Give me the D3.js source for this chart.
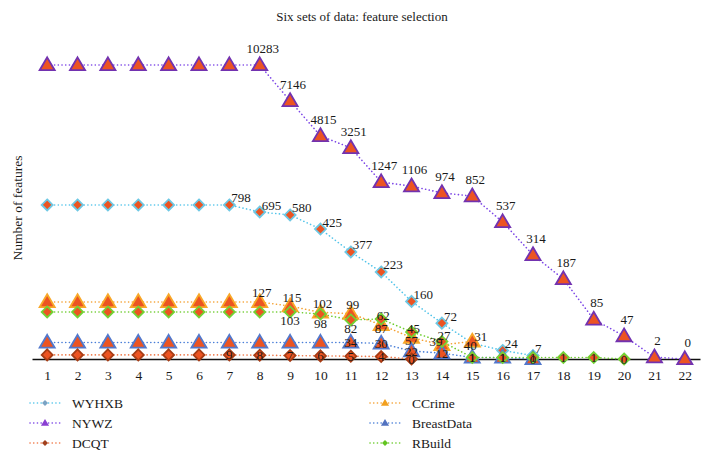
<!DOCTYPE html>
<html><head><meta charset="utf-8">
<script src="https://cdn.jsdelivr.net/npm/d3@7"></script>
<style>body{margin:0;background:#fff}</style>
</head><body>
<svg id="c" width="711" height="461"></svg>
<script>
// ---- data ----
const xLabels = d3.range(1, 23);
const wyhxb = [798,798,798,798,798,798,798,695,580,425,377,223,160,72,31,24,7];
const nywz = [10283,10283,10283,10283,10283,10283,10283,10283,7146,4815,3251,1247,1106,974,852,537,314,187,85,47,2,0];
const dcqt = [9,9,9,9,9,9,9,8,7,6,5,4,0];
const ccrime = [127,127,127,127,127,127,127,127,115,102,99,62,45,27,40];
const breastData = [34,34,34,34,34,34,34,34,34,34,34,30,22,12,1,1,0];
const rbuild = [103,103,103,103,103,103,103,103,103,98,82,87,57,39,1,1,1,1,1,0];
// first point that carries a data label, per series
const labelFrom = {WYHXB:6, NYWZ:7, DCQT:6, CCrime:7, BreastData:10, RBuild:8};

// The chart's vertical axis is not linear (no ticks are shown); it is
// reproduced with a piecewise-linear scale: value -> display level (0..100).
const levelDomain = [0,1,9,12,22,24,27,30,34,40,47,57,62,72,82,87,98,103,115,127,160,187,223,314,377,425,537,580,695,798,852,974,1106,1247,3251,4815,7146,10283];
const levelRange  = [0,0.5,1.4,2,2.7,2.9,4.8,5.3,5.6,6,7.8,9.2,11.6,12.2,13.3,13.6,15.3,16,18,19.4,19.6,27.2,29.6,35.4,36.4,44.2,46.6,49,50,52.4,55.4,56.5,58.8,60.2,71.8,75.9,87.8,100];

// ---- layout ----
const FONT = '"Liberation Serif", serif';
const baseY = 359, topY = 65;
const svg = d3.select('#c');

const x = d3.scalePoint().domain(xLabels).range([32, 700]).padding(0.5);
const level = d3.scaleLinear().domain(levelDomain).range(levelRange);
const yPx = d3.scaleLinear().domain([0, 100]).range([baseY, topY]);
const y = v => yPx(level(v));

const FILL = '#ec5422';
const series = [
  {name:'NYWZ', values:nywz, line:'#7b45e6', stroke:'#7232b0', legend:'#8a3fd2', shape:'tri', lab:'above'},
  {name:'WYHXB', values:wyhxb, line:'#52c4ea', stroke:'#6ec8e4', legend:'#7aa3c4', shape:'dia', lab:'right'},
  {name:'CCrime', values:ccrime, line:'#f4a030', stroke:'#f8a828', legend:'#f2a01e', shape:'tri', lab:'over'},
  {name:'BreastData', values:breastData, line:'#4a7fd8', stroke:'#5278cc', legend:'#5272c0', shape:'tri', lab:'center'},
  {name:'DCQT', values:dcqt, line:'#f07848', stroke:'#a63c14', legend:'#a2401c', shape:'dia', lab:'center'},
  {name:'RBuild', values:rbuild, line:'#6ccc2c', stroke:'#72d234', legend:'#62c420', shape:'dia', lab:'below'}
];

function shapePath(shape, s) {
  if (shape === 'tri') {
    const h = s * 0.95, w = s * 0.58;
    return `M0,${-h*0.62}L${w},${h*0.42}L${-w},${h*0.42}Z`;
  }
  return `M0,${-s*0.5}L${s*0.5},0L0,${s*0.5}L${-s*0.5},0Z`;
}

function txt(sel, size) {
  return sel.style('font-family', FONT).style('font-size', size + 'px').style('fill', '#1a1a1a');
}

// title
txt(svg.append('text'), 13).attr('x', 362).attr('y', 21).attr('text-anchor', 'middle')
  .text('Six sets of data: feature selection');

// y title
txt(svg.append('text'), 13.5).attr('transform', 'translate(22,208) rotate(-90)')
  .attr('text-anchor', 'middle').text('Number of features');

// x axis
const xAxis = svg.append('g').attr('transform', `translate(0,${baseY})`)
  .call(d3.axisBottom(x).tickSize(0).tickPadding(11));
xAxis.select('.domain').attr('stroke', '#111').attr('stroke-width', 1.4);
txt(xAxis.selectAll('text'), 13.5);

// lines
const line = d3.line().x((d, i) => x(xLabels[i])).y(d => y(d));
series.forEach(s => {
  svg.append('path').datum(s.values).attr('d', line)
    .attr('fill', 'none').attr('stroke', s.line).attr('stroke-width', 1.6)
    .attr('stroke-dasharray', '0.1,3.6').attr('stroke-linecap', 'round');
});

// markers
series.forEach(s => {
  svg.append('g').selectAll('path').data(s.values).join('path')
    .attr('transform', (d, i) => `translate(${x(xLabels[i])},${y(d)})`)
    .attr('d', shapePath(s.shape, s.shape === 'tri' ? 13 : 11))
    .attr('fill', FILL).attr('stroke', s.stroke).attr('stroke-width', 1.8)
    .attr('stroke-linejoin', 'miter');
});

// data labels (with a simple collision step for the crowded lower series)
const placed = [];
function hits(b) {
  return placed.some(o => b.x < o.x + o.width && b.x + b.width > o.x && b.y < o.y + o.height && b.y + b.height > o.y);
}
series.forEach(s => {
  const from = labelFrom[s.name];
  const pts = s.values.map((v, i) => ({v, i})).filter(p => p.i >= from);
  const t = txt(svg.append('g').selectAll('text').data(pts).join('text'), 13).text(p => p.v);
  t.each(function(p) {
    const cx = x(xLabels[p.i]), cy = y(p.v);
    const el = d3.select(this);
    if (s.lab === 'above') el.attr('x', cx + 3).attr('y', cy - 12).attr('text-anchor', 'middle');
    else if (s.lab === 'right') el.attr('x', cx + 2).attr('y', cy - 2.5).attr('text-anchor', 'start');
    else if (s.lab === 'center') el.attr('x', cx).attr('y', cy + 4.5).attr('text-anchor', 'middle');
    else if (s.lab === 'over') {
      el.attr('x', cx + 2).attr('y', cy - 4.5).attr('text-anchor', 'middle');
      if (hits(this.getBBox())) el.attr('x', cx - 2).attr('y', cy + 9);
    } else {
      const nearBase = cy + 9 > baseY - 10;
      const dx = nearBase && cy < baseY - 8 ? -6 : 0;
      el.attr('x', cx + dx).attr('y', (nearBase ? cy : cy + 9) + 4.5).attr('text-anchor', 'middle');
    }
    if (s.name === 'NYWZ' || s.name === 'WYHXB') placed.push(this.getBBox());
  });
});

// legend
const legendOrder = ['WYHXB','NYWZ','DCQT','CCrime','BreastData','RBuild'];
legendOrder.forEach((name, k) => {
  const s = series.find(d => d.name === name);
  const col = Math.floor(k / 3), row = k % 3;
  const lx = col === 0 ? 30 : 370, ly = 403 + row * 20;
  const g = svg.append('g').attr('transform', `translate(${lx},${ly})`);
  g.append('line').attr('x1', 0).attr('x2', 30).attr('y1', 0).attr('y2', 0)
    .attr('stroke', s.line).attr('stroke-width', 1.6)
    .attr('stroke-dasharray', '0.1,3.6').attr('stroke-linecap', 'round');
  g.append('path').attr('transform', 'translate(15,0)')
    .attr('d', shapePath(s.shape, s.shape === 'tri' ? 7 : 6)).attr('fill', s.legend);
  txt(g.append('text'), 13.5).attr('x', 42).attr('y', 4.5).text(name);
});
</script>
</body></html>
